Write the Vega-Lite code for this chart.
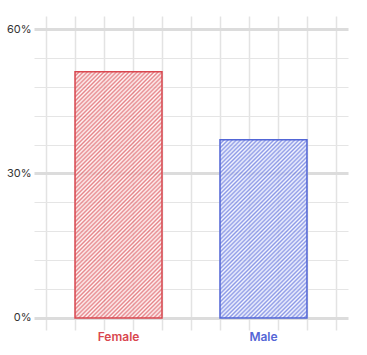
{
"$schema":"https://vega.github.io/schema/vega-lite/v6.json",
"width":314,"height":314,
"autosize":{"type":"none"},
"padding":{"left":34,"top":16,"right":19,"bottom":25},
"background":"white",
"config":{"view":{"stroke":null}},
"data":{"values":[{"sex":"Female","pct":51.1},{"sex":"Male","pct":37}]},
"layer":[
{"mark":{"type":"point","opacity":0},
 "encoding":{"x":{"datum":5,"type":"quantitative","scale":{"domain":[-0.43,10.43],"nice":false,"zero":false},"axis":{"orient":"top","values":[0,1,2,3,4,5,6,7,8,9,10],"grid":true,"gridColor":"#e3e3e3","gridWidth":1.5,"labels":false,"ticks":false,"domain":false,"title":null}}}},
{"mark":{"type":"bar","strokeWidth":1.5,"fillOpacity":0.8},
 "encoding":{
  "x":{"field":"sex","type":"nominal","scale":{"paddingInner":0.4,"paddingOuter":0.283},"axis":{"orient":"bottom","title":null,"labelAngle":0,"domain":false,"ticks":false,"grid":false,"labelPadding":1,"labelFont":"Inter","labelFontSize":12,"labelFontWeight":600,"labelColor":{"condition":{"test":"datum.value==='Female'","value":"#d9474f"},"value":"#5566d6"}}},
  "y":{"field":"pct","type":"quantitative","scale":{"domain":[-2.5,62.7],"nice":false,"zero":false},"axis":{"values":[0,6,12,18,24,30,36,42,48,54,60],"labelExpr":"datum.value % 30 === 0 ? datum.value + '%' : ''","grid":true,"gridColor":{"condition":{"test":"datum.value % 30 === 0","value":"#dcdcdc"},"value":"#e5e5e5"},"gridWidth":{"condition":{"test":"datum.value % 30 === 0","value":3},"value":1},"domain":false,"ticks":false,"title":null,"labelPadding":3,"labelFont":"Inter","labelFontSize":11,"labelColor":"#333333"}},
  "y2":{"datum":0},
  "stroke":{"condition":{"test":"datum.sex==='Female'","value":"#d9474f"},"value":"#5266d6"},
  "fill":{"condition":{"test":"datum.sex==='Female'","value":{"gradient":"linear","x1":0,"y1":0,"x2":0.4255,"y2":1.2032,"stops":[
{"offset":0,"color":"#df666c"},{"offset":0.00625,"color":"#fff5f5"},{"offset":0.0125,"color":"#df666c"},{"offset":0.01875,"color":"#fff5f5"},{"offset":0.025,"color":"#df666c"},{"offset":0.03125,"color":"#fff5f5"},{"offset":0.0375,"color":"#df666c"},{"offset":0.04375,"color":"#fff5f5"},{"offset":0.05,"color":"#df666c"},{"offset":0.05625,"color":"#fff5f5"},{"offset":0.0625,"color":"#df666c"},{"offset":0.06875,"color":"#fff5f5"},{"offset":0.075,"color":"#df666c"},{"offset":0.08125,"color":"#fff5f5"},{"offset":0.0875,"color":"#df666c"},{"offset":0.09375,"color":"#fff5f5"},
{"offset":0.1,"color":"#df666c"},{"offset":0.10625,"color":"#fff5f5"},{"offset":0.1125,"color":"#df666c"},{"offset":0.11875,"color":"#fff5f5"},{"offset":0.125,"color":"#df666c"},{"offset":0.13125,"color":"#fff5f5"},{"offset":0.1375,"color":"#df666c"},{"offset":0.14375,"color":"#fff5f5"},{"offset":0.15,"color":"#df666c"},{"offset":0.15625,"color":"#fff5f5"},{"offset":0.1625,"color":"#df666c"},{"offset":0.16875,"color":"#fff5f5"},{"offset":0.175,"color":"#df666c"},{"offset":0.18125,"color":"#fff5f5"},{"offset":0.1875,"color":"#df666c"},{"offset":0.19375,"color":"#fff5f5"},
{"offset":0.2,"color":"#df666c"},{"offset":0.20625,"color":"#fff5f5"},{"offset":0.2125,"color":"#df666c"},{"offset":0.21875,"color":"#fff5f5"},{"offset":0.225,"color":"#df666c"},{"offset":0.23125,"color":"#fff5f5"},{"offset":0.2375,"color":"#df666c"},{"offset":0.24375,"color":"#fff5f5"},{"offset":0.25,"color":"#df666c"},{"offset":0.25625,"color":"#fff5f5"},{"offset":0.2625,"color":"#df666c"},{"offset":0.26875,"color":"#fff5f5"},{"offset":0.275,"color":"#df666c"},{"offset":0.28125,"color":"#fff5f5"},{"offset":0.2875,"color":"#df666c"},{"offset":0.29375,"color":"#fff5f5"},
{"offset":0.3,"color":"#df666c"},{"offset":0.30625,"color":"#fff5f5"},{"offset":0.3125,"color":"#df666c"},{"offset":0.31875,"color":"#fff5f5"},{"offset":0.325,"color":"#df666c"},{"offset":0.33125,"color":"#fff5f5"},{"offset":0.3375,"color":"#df666c"},{"offset":0.34375,"color":"#fff5f5"},{"offset":0.35,"color":"#df666c"},{"offset":0.35625,"color":"#fff5f5"},{"offset":0.3625,"color":"#df666c"},{"offset":0.36875,"color":"#fff5f5"},{"offset":0.375,"color":"#df666c"},{"offset":0.38125,"color":"#fff5f5"},{"offset":0.3875,"color":"#df666c"},{"offset":0.39375,"color":"#fff5f5"},
{"offset":0.4,"color":"#df666c"},{"offset":0.40625,"color":"#fff5f5"},{"offset":0.4125,"color":"#df666c"},{"offset":0.41875,"color":"#fff5f5"},{"offset":0.425,"color":"#df666c"},{"offset":0.43125,"color":"#fff5f5"},{"offset":0.4375,"color":"#df666c"},{"offset":0.44375,"color":"#fff5f5"},{"offset":0.45,"color":"#df666c"},{"offset":0.45625,"color":"#fff5f5"},{"offset":0.4625,"color":"#df666c"},{"offset":0.46875,"color":"#fff5f5"},{"offset":0.475,"color":"#df666c"},{"offset":0.48125,"color":"#fff5f5"},{"offset":0.4875,"color":"#df666c"},{"offset":0.49375,"color":"#fff5f5"},
{"offset":0.5,"color":"#df666c"},{"offset":0.50625,"color":"#fff5f5"},{"offset":0.5125,"color":"#df666c"},{"offset":0.51875,"color":"#fff5f5"},{"offset":0.525,"color":"#df666c"},{"offset":0.53125,"color":"#fff5f5"},{"offset":0.5375,"color":"#df666c"},{"offset":0.54375,"color":"#fff5f5"},{"offset":0.55,"color":"#df666c"},{"offset":0.55625,"color":"#fff5f5"},{"offset":0.5625,"color":"#df666c"},{"offset":0.56875,"color":"#fff5f5"},{"offset":0.575,"color":"#df666c"},{"offset":0.58125,"color":"#fff5f5"},{"offset":0.5875,"color":"#df666c"},{"offset":0.59375,"color":"#fff5f5"},
{"offset":0.6,"color":"#df666c"},{"offset":0.60625,"color":"#fff5f5"},{"offset":0.6125,"color":"#df666c"},{"offset":0.61875,"color":"#fff5f5"},{"offset":0.625,"color":"#df666c"},{"offset":0.63125,"color":"#fff5f5"},{"offset":0.6375,"color":"#df666c"},{"offset":0.64375,"color":"#fff5f5"},{"offset":0.65,"color":"#df666c"},{"offset":0.65625,"color":"#fff5f5"},{"offset":0.6625,"color":"#df666c"},{"offset":0.66875,"color":"#fff5f5"},{"offset":0.675,"color":"#df666c"},{"offset":0.68125,"color":"#fff5f5"},{"offset":0.6875,"color":"#df666c"},{"offset":0.69375,"color":"#fff5f5"},
{"offset":0.7,"color":"#df666c"},{"offset":0.70625,"color":"#fff5f5"},{"offset":0.7125,"color":"#df666c"},{"offset":0.71875,"color":"#fff5f5"},{"offset":0.725,"color":"#df666c"},{"offset":0.73125,"color":"#fff5f5"},{"offset":0.7375,"color":"#df666c"},{"offset":0.74375,"color":"#fff5f5"},{"offset":0.75,"color":"#df666c"},{"offset":0.75625,"color":"#fff5f5"},{"offset":0.7625,"color":"#df666c"},{"offset":0.76875,"color":"#fff5f5"},{"offset":0.775,"color":"#df666c"},{"offset":0.78125,"color":"#fff5f5"},{"offset":0.7875,"color":"#df666c"},{"offset":0.79375,"color":"#fff5f5"},
{"offset":0.8,"color":"#df666c"},{"offset":0.80625,"color":"#fff5f5"},{"offset":0.8125,"color":"#df666c"},{"offset":0.81875,"color":"#fff5f5"},{"offset":0.825,"color":"#df666c"},{"offset":0.83125,"color":"#fff5f5"},{"offset":0.8375,"color":"#df666c"},{"offset":0.84375,"color":"#fff5f5"},{"offset":0.85,"color":"#df666c"},{"offset":0.85625,"color":"#fff5f5"},{"offset":0.8625,"color":"#df666c"},{"offset":0.86875,"color":"#fff5f5"},{"offset":0.875,"color":"#df666c"},{"offset":0.88125,"color":"#fff5f5"},{"offset":0.8875,"color":"#df666c"},{"offset":0.89375,"color":"#fff5f5"},
{"offset":0.9,"color":"#df666c"},{"offset":0.90625,"color":"#fff5f5"},{"offset":0.9125,"color":"#df666c"},{"offset":0.91875,"color":"#fff5f5"},{"offset":0.925,"color":"#df666c"},{"offset":0.93125,"color":"#fff5f5"},{"offset":0.9375,"color":"#df666c"},{"offset":0.94375,"color":"#fff5f5"},{"offset":0.95,"color":"#df666c"},{"offset":0.95625,"color":"#fff5f5"},{"offset":0.9625,"color":"#df666c"},{"offset":0.96875,"color":"#fff5f5"},{"offset":0.975,"color":"#df666c"},{"offset":0.98125,"color":"#fff5f5"},{"offset":0.9875,"color":"#df666c"},{"offset":0.99375,"color":"#fff5f5"},
{"offset":1,"color":"#df666c"}]}},
  "value":{"gradient":"linear","x1":0,"y1":0,"x2":0.7367,"y2":1.509,"stops":[
{"offset":0,"color":"#6f7fe0"},{"offset":0.00625,"color":"#f3f5ff"},{"offset":0.0125,"color":"#6f7fe0"},{"offset":0.01875,"color":"#f3f5ff"},{"offset":0.025,"color":"#6f7fe0"},{"offset":0.03125,"color":"#f3f5ff"},{"offset":0.0375,"color":"#6f7fe0"},{"offset":0.04375,"color":"#f3f5ff"},{"offset":0.05,"color":"#6f7fe0"},{"offset":0.05625,"color":"#f3f5ff"},{"offset":0.0625,"color":"#6f7fe0"},{"offset":0.06875,"color":"#f3f5ff"},{"offset":0.075,"color":"#6f7fe0"},{"offset":0.08125,"color":"#f3f5ff"},{"offset":0.0875,"color":"#6f7fe0"},{"offset":0.09375,"color":"#f3f5ff"},
{"offset":0.1,"color":"#6f7fe0"},{"offset":0.10625,"color":"#f3f5ff"},{"offset":0.1125,"color":"#6f7fe0"},{"offset":0.11875,"color":"#f3f5ff"},{"offset":0.125,"color":"#6f7fe0"},{"offset":0.13125,"color":"#f3f5ff"},{"offset":0.1375,"color":"#6f7fe0"},{"offset":0.14375,"color":"#f3f5ff"},{"offset":0.15,"color":"#6f7fe0"},{"offset":0.15625,"color":"#f3f5ff"},{"offset":0.1625,"color":"#6f7fe0"},{"offset":0.16875,"color":"#f3f5ff"},{"offset":0.175,"color":"#6f7fe0"},{"offset":0.18125,"color":"#f3f5ff"},{"offset":0.1875,"color":"#6f7fe0"},{"offset":0.19375,"color":"#f3f5ff"},
{"offset":0.2,"color":"#6f7fe0"},{"offset":0.20625,"color":"#f3f5ff"},{"offset":0.2125,"color":"#6f7fe0"},{"offset":0.21875,"color":"#f3f5ff"},{"offset":0.225,"color":"#6f7fe0"},{"offset":0.23125,"color":"#f3f5ff"},{"offset":0.2375,"color":"#6f7fe0"},{"offset":0.24375,"color":"#f3f5ff"},{"offset":0.25,"color":"#6f7fe0"},{"offset":0.25625,"color":"#f3f5ff"},{"offset":0.2625,"color":"#6f7fe0"},{"offset":0.26875,"color":"#f3f5ff"},{"offset":0.275,"color":"#6f7fe0"},{"offset":0.28125,"color":"#f3f5ff"},{"offset":0.2875,"color":"#6f7fe0"},{"offset":0.29375,"color":"#f3f5ff"},
{"offset":0.3,"color":"#6f7fe0"},{"offset":0.30625,"color":"#f3f5ff"},{"offset":0.3125,"color":"#6f7fe0"},{"offset":0.31875,"color":"#f3f5ff"},{"offset":0.325,"color":"#6f7fe0"},{"offset":0.33125,"color":"#f3f5ff"},{"offset":0.3375,"color":"#6f7fe0"},{"offset":0.34375,"color":"#f3f5ff"},{"offset":0.35,"color":"#6f7fe0"},{"offset":0.35625,"color":"#f3f5ff"},{"offset":0.3625,"color":"#6f7fe0"},{"offset":0.36875,"color":"#f3f5ff"},{"offset":0.375,"color":"#6f7fe0"},{"offset":0.38125,"color":"#f3f5ff"},{"offset":0.3875,"color":"#6f7fe0"},{"offset":0.39375,"color":"#f3f5ff"},
{"offset":0.4,"color":"#6f7fe0"},{"offset":0.40625,"color":"#f3f5ff"},{"offset":0.4125,"color":"#6f7fe0"},{"offset":0.41875,"color":"#f3f5ff"},{"offset":0.425,"color":"#6f7fe0"},{"offset":0.43125,"color":"#f3f5ff"},{"offset":0.4375,"color":"#6f7fe0"},{"offset":0.44375,"color":"#f3f5ff"},{"offset":0.45,"color":"#6f7fe0"},{"offset":0.45625,"color":"#f3f5ff"},{"offset":0.4625,"color":"#6f7fe0"},{"offset":0.46875,"color":"#f3f5ff"},{"offset":0.475,"color":"#6f7fe0"},{"offset":0.48125,"color":"#f3f5ff"},{"offset":0.4875,"color":"#6f7fe0"},{"offset":0.49375,"color":"#f3f5ff"},
{"offset":0.5,"color":"#6f7fe0"},{"offset":0.50625,"color":"#f3f5ff"},{"offset":0.5125,"color":"#6f7fe0"},{"offset":0.51875,"color":"#f3f5ff"},{"offset":0.525,"color":"#6f7fe0"},{"offset":0.53125,"color":"#f3f5ff"},{"offset":0.5375,"color":"#6f7fe0"},{"offset":0.54375,"color":"#f3f5ff"},{"offset":0.55,"color":"#6f7fe0"},{"offset":0.55625,"color":"#f3f5ff"},{"offset":0.5625,"color":"#6f7fe0"},{"offset":0.56875,"color":"#f3f5ff"},{"offset":0.575,"color":"#6f7fe0"},{"offset":0.58125,"color":"#f3f5ff"},{"offset":0.5875,"color":"#6f7fe0"},{"offset":0.59375,"color":"#f3f5ff"},
{"offset":0.6,"color":"#6f7fe0"},{"offset":0.60625,"color":"#f3f5ff"},{"offset":0.6125,"color":"#6f7fe0"},{"offset":0.61875,"color":"#f3f5ff"},{"offset":0.625,"color":"#6f7fe0"},{"offset":0.63125,"color":"#f3f5ff"},{"offset":0.6375,"color":"#6f7fe0"},{"offset":0.64375,"color":"#f3f5ff"},{"offset":0.65,"color":"#6f7fe0"},{"offset":0.65625,"color":"#f3f5ff"},{"offset":0.6625,"color":"#6f7fe0"},{"offset":0.66875,"color":"#f3f5ff"},{"offset":0.675,"color":"#6f7fe0"},{"offset":0.68125,"color":"#f3f5ff"},{"offset":0.6875,"color":"#6f7fe0"},{"offset":0.69375,"color":"#f3f5ff"},
{"offset":0.7,"color":"#6f7fe0"},{"offset":0.70625,"color":"#f3f5ff"},{"offset":0.7125,"color":"#6f7fe0"},{"offset":0.71875,"color":"#f3f5ff"},{"offset":0.725,"color":"#6f7fe0"},{"offset":0.73125,"color":"#f3f5ff"},{"offset":0.7375,"color":"#6f7fe0"},{"offset":0.74375,"color":"#f3f5ff"},{"offset":0.75,"color":"#6f7fe0"},{"offset":0.75625,"color":"#f3f5ff"},{"offset":0.7625,"color":"#6f7fe0"},{"offset":0.76875,"color":"#f3f5ff"},{"offset":0.775,"color":"#6f7fe0"},{"offset":0.78125,"color":"#f3f5ff"},{"offset":0.7875,"color":"#6f7fe0"},{"offset":0.79375,"color":"#f3f5ff"},
{"offset":0.8,"color":"#6f7fe0"},{"offset":0.80625,"color":"#f3f5ff"},{"offset":0.8125,"color":"#6f7fe0"},{"offset":0.81875,"color":"#f3f5ff"},{"offset":0.825,"color":"#6f7fe0"},{"offset":0.83125,"color":"#f3f5ff"},{"offset":0.8375,"color":"#6f7fe0"},{"offset":0.84375,"color":"#f3f5ff"},{"offset":0.85,"color":"#6f7fe0"},{"offset":0.85625,"color":"#f3f5ff"},{"offset":0.8625,"color":"#6f7fe0"},{"offset":0.86875,"color":"#f3f5ff"},{"offset":0.875,"color":"#6f7fe0"},{"offset":0.88125,"color":"#f3f5ff"},{"offset":0.8875,"color":"#6f7fe0"},{"offset":0.89375,"color":"#f3f5ff"},
{"offset":0.9,"color":"#6f7fe0"},{"offset":0.90625,"color":"#f3f5ff"},{"offset":0.9125,"color":"#6f7fe0"},{"offset":0.91875,"color":"#f3f5ff"},{"offset":0.925,"color":"#6f7fe0"},{"offset":0.93125,"color":"#f3f5ff"},{"offset":0.9375,"color":"#6f7fe0"},{"offset":0.94375,"color":"#f3f5ff"},{"offset":0.95,"color":"#6f7fe0"},{"offset":0.95625,"color":"#f3f5ff"},{"offset":0.9625,"color":"#6f7fe0"},{"offset":0.96875,"color":"#f3f5ff"},{"offset":0.975,"color":"#6f7fe0"},{"offset":0.98125,"color":"#f3f5ff"},{"offset":0.9875,"color":"#6f7fe0"},{"offset":0.99375,"color":"#f3f5ff"},
{"offset":1,"color":"#6f7fe0"}]}}
 }}
],
"resolve":{"scale":{"x":"independent"},"axis":{"x":"independent"}}
}
